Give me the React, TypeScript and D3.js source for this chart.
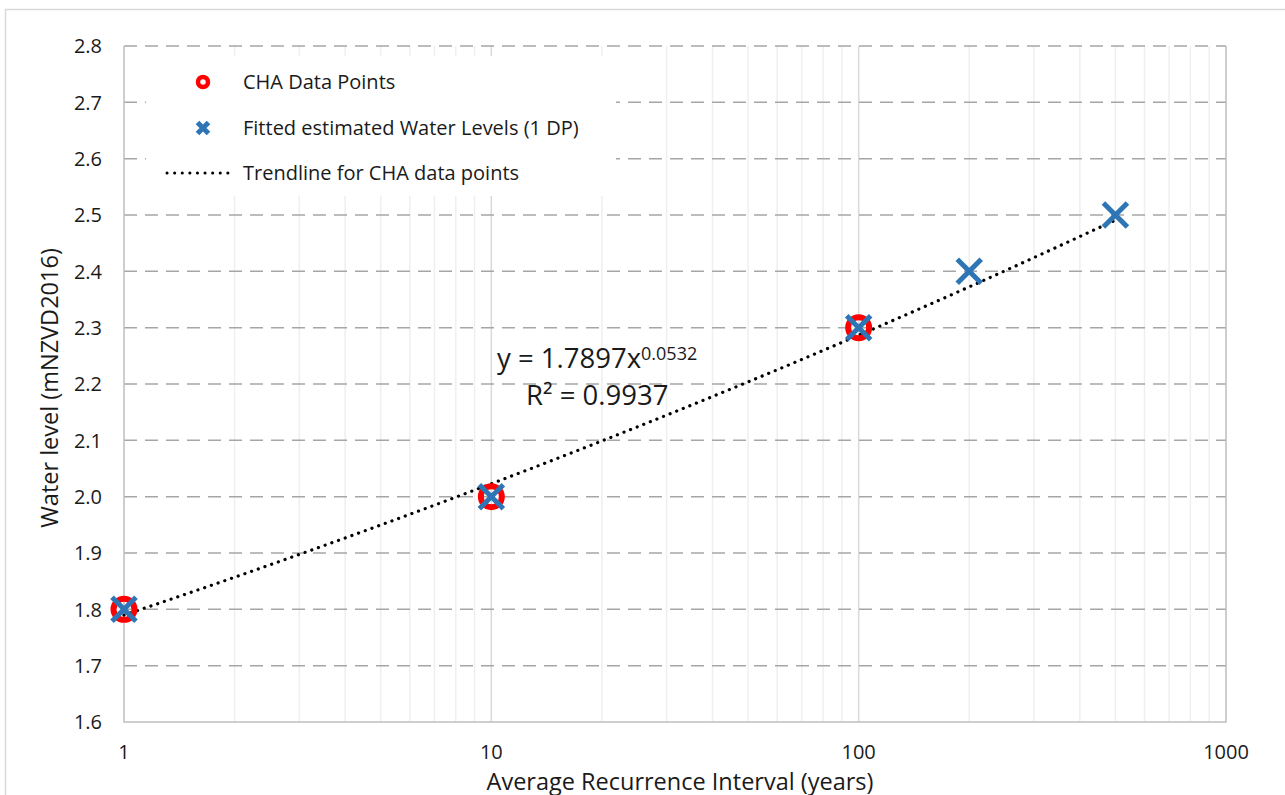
import React from 'react';
import * as d3 from 'd3';

// values
const yTicks = [1.6, 1.7, 1.8, 1.9, 2.0, 2.1, 2.2, 2.3, 2.4, 2.5, 2.6, 2.7, 2.8];
const xTicks = [1, 10, 100, 1000];
const chaAri = [1, 10, 100];
const chaLevel = [1.8, 2.0, 2.3];
const fittedAri = [1, 10, 100, 200, 500];
const fittedLevel = [1.8, 2.0, 2.3, 2.4, 2.5];
const trendCoef = 1.7897;
const trendExp = 0.0532;
const trendAri = [1, 2, 5, 10, 20, 50, 100, 200, 500];

const W = 1285;
const H = 795;
const margin = { top: 46, right: 59, bottom: 73, left: 124 };
const font = '"Open Sans", "Noto Sans", sans-serif';

const App = () => {
    const x = d3.scaleLog().domain([1, 1000]).range([margin.left, W - margin.right]);
    const y = d3.scaleLinear().domain([1.6, 2.8]).range([H - margin.bottom, margin.top]);

    // minor log gridlines 2..9 in each decade
    const minor: number[] = [];
    [1, 10, 100].forEach(d => {
        for (let k = 2; k <= 9; k++) minor.push(d * k);
    });

    const trend = d3.line<number>()
        .x(d => x(d))
        .y(d => y(trendCoef * Math.pow(d, trendExp)))
        .curve(d3.curveMonotoneX);

    const cross = (cx: number, cy: number, r: number, key: any) => (
        <path key={key}
            d={`M${cx - r},${cy - r}L${cx + r},${cy + r}M${cx - r},${cy + r}L${cx + r},${cy - r}`}
            stroke="#2e75b6" strokeWidth={5} fill="none" />
    );

    const x0 = x(1), x1 = x(1000), yb = y(1.6), yt = y(2.8);

    return (
        <svg width={W} height={H} style={{ position: 'absolute', left: 0, top: 0, background: '#fff' }}
            fontFamily={font}>
            <rect x={5.5} y={9.5} width={W} height={H} fill="#fff" stroke="#d9d9d9" strokeWidth={1.5} />

            {/* vertical gridlines */}
            {minor.map(v => (
                <line key={'m' + v} x1={x(v)} x2={x(v)} y1={yt} y2={yb} stroke="#efefef" strokeWidth={1.5} />
            ))}
            {[10, 100].map(v => (
                <line key={'M' + v} x1={x(v)} x2={x(v)} y1={yt} y2={yb} stroke="#d9d9d9" strokeWidth={1.5} />
            ))}

            {/* horizontal dashed gridlines */}
            {yTicks.filter(v => v > 1.6).map(v => (
                <line key={'h' + v} x1={x0} x2={x1} y1={y(v)} y2={y(v)}
                    stroke="#a6a6a6" strokeWidth={1.5} strokeDasharray="13,8" />
            ))}

            {/* axes */}
            <path d={`M${x0},${yt}V${yb}H${x1}V${yt}`} fill="none" stroke="#bfbfbf" strokeWidth={1.5} />

            {yTicks.map(v => (
                <text key={'yl' + v} x={x0 - 22} y={y(v)} dy="0.36em" textAnchor="end"
                    fontSize={20} fill="#1a1a1a">{v.toFixed(1)}</text>
            ))}
            {xTicks.map(v => (
                <text key={'xl' + v} x={x(v)} y={yb + 37} textAnchor="middle"
                    fontSize={20} fill="#1a1a1a">{v}</text>
            ))}

            <text x={(x0 + x1) / 2 + 5} y={790} textAnchor="middle" fontSize={23.5} fill="#1a1a1a">
                Average Recurrence Interval (years)
            </text>
            <text transform={`translate(58,388) rotate(-90)`} textAnchor="middle"
                fontSize={23.5} fill="#1a1a1a">Water level (mNZVD2016)</text>

            {/* trendline */}
            <path d={trend(trendAri) || ''} fill="none" stroke="#000" strokeWidth={3.2}
                strokeDasharray="0.1,7" strokeLinecap="round" />

            {/* CHA points */}
            {chaAri.map((a, i) => (
                <circle key={'c' + i} cx={x(a)} cy={y(chaLevel[i])} r={10.5} fill="none"
                    stroke="#ff0000" strokeWidth={6} />
            ))}
            {/* fitted */}
            {fittedAri.map((a, i) => cross(x(a), y(fittedLevel[i]), 12, 'f' + i))}

            {/* equation */}
            <text x={497} y={368} fontSize={27.5} fill="#1a1a1a">
                y = 1.7897x<tspan dy={-8} fontSize={18}>0.0532</tspan>
            </text>
            <text x={526} y={405} fontSize={27.5} fill="#1a1a1a">R² = 0.9937</text>

            {/* legend */}
            <rect x={146} y={56} width={470} height={140} fill="#fff" />
            <circle cx={203} cy={82} r={5} fill="none" stroke="#ff0000" strokeWidth={4.5} />
            <text x={243} y={82} dy="0.35em" fontSize={20} fill="#1a1a1a">CHA Data Points</text>
            {cross(203, 128, 5.5, 'lg')}
            <text x={243} y={128} dy="0.35em" fontSize={20} fill="#1a1a1a">Fitted estimated Water Levels (1 DP)</text>
            <line x1={167} x2={228} y1={173} y2={173} stroke="#000" strokeWidth={3}
                strokeDasharray="0.1,7.5" strokeLinecap="round" />
            <text x={243} y={173} dy="0.35em" fontSize={20} fill="#1a1a1a">Trendline for CHA data points</text>
        </svg>
    );
};

export default App;
